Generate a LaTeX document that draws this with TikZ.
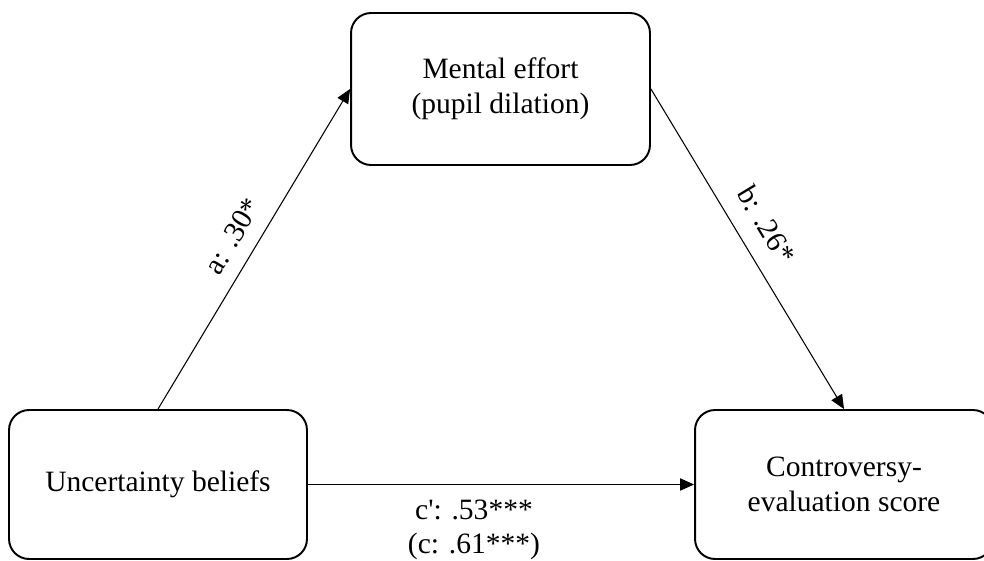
\documentclass[tikz,border=0pt]{standalone}
\usepackage{fontspec}
\setmainfont{Liberation Serif}
\usetikzlibrary{arrows.meta}

\begin{document}
\begin{tikzpicture}[x=0.02cm, y=-0.02cm,
  varbox/.style={rectangle, rounded corners=0.4cm, draw=black, line width=1.1pt, align=center, font=\fontsize{16.8}{20}\selectfont},
  path/.style={line width=0.6pt, -{Triangle[length=8pt, width=7pt]}},
  coef/.style={font=\fontsize{16.8}{19.5}\selectfont, align=center}]

\useasboundingbox (0,0) rectangle (984,561);

\node (effort) [varbox, minimum width=5.98cm, minimum height=3.04cm] at (500.5,89) {Mental effort\\(pupil dilation)};
\node (beliefs) [varbox, minimum width=5.96cm, minimum height=2.98cm] at (158,484.5) {Uncertainty beliefs};
\node (score) [varbox, minimum width=5.96cm, minimum height=2.98cm] at (844,484.5) {Controversy-\\evaluation score};

\draw [path] (beliefs.north) -- node [coef, above=5pt, sloped] {a: .30*} (effort.west);
\draw [path] (effort.east) -- node [coef, above=7pt, sloped, pos=0.47] {b: .26*} (score.north);
\draw [path] (beliefs.east) -- node [coef, below=5pt, pos=0.43] {c\textquotesingle: .53***\\(c: .61***)} (score.west);

\end{tikzpicture}
\end{document}
